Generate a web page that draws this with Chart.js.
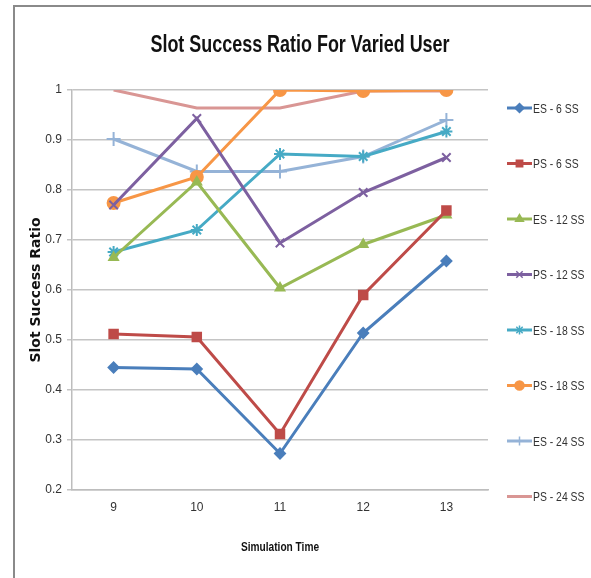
<!DOCTYPE html>
<html>
<head>
<meta charset="utf-8">
<script src="https://cdn.jsdelivr.net/npm/chart.js@4"></script>
<style>
  html, body { margin: 0; padding: 0; background: #fff; }
  #wrap { width: 591px; height: 578px; position: relative; }
</style>
</head>
<body>
<div id="wrap"><canvas id="chartSlot" width="591" height="578"></canvas></div>
<script>
// data
const categories = ['9', '10', '11', '12', '13'];
const seriesNames = ['ES - 6 SS', 'PS - 6 SS', 'ES - 12 SS', 'PS - 12 SS', 'ES - 18 SS', 'PS - 18 SS', 'ES - 24 SS', 'PS - 24 SS'];
const es6 = [0.445, 0.442, 0.273, 0.514, 0.658];
const ps6 = [0.512, 0.506, 0.312, 0.590, 0.759];
const es12 = [0.665, 0.816, 0.604, 0.691, 0.750];
const ps12 = [0.770, 0.943, 0.694, 0.795, 0.865];
const es18 = [0.676, 0.720, 0.872, 0.867, 0.917];
const ps18 = [0.774, 0.826, 1.000, 0.998, 1.000];
const es24 = [0.902, 0.837, 0.837, 0.867, 0.940];
const ps24 = [1.000, 0.964, 0.964, 0.998, 0.998];
const yTicks = [0.2, 0.3, 0.4, 0.5, 0.6, 0.7, 0.8, 0.9, 1];

const chartTitle = 'Slot Success Ratio For Varied User';
const xTitle = 'Simulation Time';
const yTitle = 'Slot Success Ratio';

const seriesValues = [es6, ps6, es12, ps12, es18, ps18, es24, ps24];
const colors = ['#4a7ebb', '#be4b48', '#98b954', '#7d60a0', '#46aac5', '#f79646', '#95b3d7', '#d99694'];
const markers = ['rectRot', 'rect', 'triangle', 'crossRot', 'star', 'circle', 'cross', false];
const radii = [5, 6, 5, 6, 6, 6, 7, 0];

const sans = '"Liberation Sans", Arial, sans-serif';

// teks dipersempit (font narrow tidak tersedia)
function narrowText(c, text, x, y, font, sx, color, align) {
  c.save();
  c.font = font;
  c.fillStyle = color;
  c.textBaseline = 'middle';
  c.textAlign = align || 'center';
  c.translate(x, y);
  c.scale(sx, 1);
  c.fillText(text, 0, 0);
  c.restore();
}

// bingkai abu-abu di tepi gambar
const framePlugin = {
  id: 'frame',
  beforeDraw(chart) {
    const c = chart.ctx;
    c.save();
    c.strokeStyle = '#8a8a8a';
    c.lineWidth = 2;
    c.beginPath();
    c.moveTo(14, 578);
    c.lineTo(14, 6);
    c.lineTo(591, 6);
    c.stroke();
    c.restore();
  }
};

// judul & judul sumbu
const titlesPlugin = {
  id: 'titles',
  afterDraw(chart) {
    const c = chart.ctx;
    const a = chart.chartArea;
    narrowText(c, chartTitle, 300, 46, 'bold 23px ' + sans, 0.78, '#111');
    narrowText(c, xTitle, (a.left + a.right) / 2, 547, 'bold 13px ' + sans, 0.78, '#111');
    c.save();
    c.translate(36, (a.top + a.bottom) / 2);
    c.rotate(-Math.PI / 2);
    c.font = 'bold 14px "DejaVu Sans", sans-serif';
    c.fillStyle = '#111';
    c.textAlign = 'center';
    c.textBaseline = 'middle';
    c.fillText(yTitle, 0, 0);
    c.restore();
  }
};

// legenda manual: garis + penanda, jarak lebar
const legendPlugin = {
  id: 'sideLegend',
  afterDraw(chart) {
    const c = chart.ctx;
    chart.data.datasets.forEach((ds, i) => {
      const y = 108 + i * 55.5;
      c.save();
      c.strokeStyle = ds.borderColor;
      c.lineWidth = 3;
      c.beginPath();
      c.moveTo(507, y);
      c.lineTo(532, y);
      c.stroke();
      if (ds.pointStyle) {
        c.fillStyle = ds.borderColor;
        c.strokeStyle = ds.borderColor;
        c.lineWidth = 1.5;
        Chart.helpers.drawPoint(c, { pointStyle: ds.pointStyle, radius: 4.5, borderWidth: 1.5 }, 519.5, y);
      }
      c.restore();
      narrowText(c, ds.label, 533, y + 1, '13px ' + sans, 0.8, '#333', 'left');
    });
  }
};

const ctx = document.getElementById('chartSlot');
new Chart(ctx, {
  type: 'line',
  data: {
    labels: categories,
    datasets: seriesNames.map((name, i) => ({
      label: name,
      data: seriesValues[i],
      borderColor: colors[i],
      backgroundColor: colors[i],
      borderWidth: 3,
      pointStyle: markers[i],
      pointRadius: radii[i],
      pointBorderWidth: 2,
      tension: 0
    }))
  },
  options: {
    responsive: false,
    animation: false,
    layout: { padding: { top: 90, left: 22, right: 103, bottom: 18 } },
    plugins: {
      legend: { display: false },
      tooltip: { enabled: false },
      title: { display: false }
    },
    scales: {
      x: {
        offset: true,
        grid: { display: false, drawTicks: false },
        border: { color: '#bdbdbd', width: 1.5 },
        ticks: { color: '#333', padding: 10, font: { family: sans, size: 12 } },
        afterFit: s => { s.height = 70; }
      },
      y: {
        min: 0.2,
        max: 1,
        afterBuildTicks: s => { s.ticks = yTicks.map(v => ({ value: v })); },
        grid: { color: '#c4c4c4', lineWidth: 1.5, tickLength: 5 },
        border: { color: '#bdbdbd', width: 1.5 },
        ticks: {
          color: '#333',
          padding: 5,
          font: { family: sans, size: 12 },
          callback: v => String(Math.round(v * 10) / 10)
        },
        afterFit: s => { s.width = 50; }
      }
    }
  },
  plugins: [framePlugin, titlesPlugin, legendPlugin]
});
</script>
</body>
</html>
